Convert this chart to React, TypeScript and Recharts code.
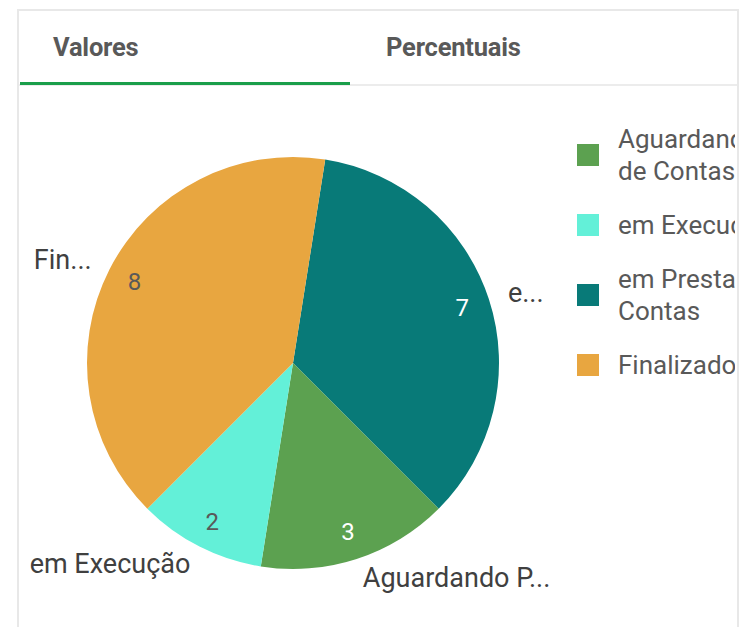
import React from "react";
import { PieChart, Pie, Cell, Legend } from "recharts";

// slice order follows the drawing (clockwise from the top)
const categories = ["em Prestação de Contas", "Aguardando Prestação de Contas", "em Execução", "Finalizado"];
const shortLabels = ["e...", "Aguardando P...", "em Execução", "Fin..."];
const values = [7, 3, 2, 8];
const colors = ["#087a78", "#5ca150", "#63f0d8", "#e8a640"];
const valueColors = ["#ffffff", "#ffffff", "#595959", "#595959"];

// legend order as shown on the right
const legendOrder = [1, 2, 0, 3];

const tabs = ["Valores", "Percentuais"];

const data = categories.map((name, i) => ({ name, value: values[i] }));

const RADIAN = Math.PI / 180;
const FONT = "Roboto, 'Noto Sans', sans-serif";

const renderLabel = (props: any) => {
  const { cx, cy, midAngle, outerRadius, index, value } = props;
  const cos = Math.cos(-midAngle * RADIAN);
  const sin = Math.sin(-midAngle * RADIAN);
  const rIn = outerRadius - 28;
  const rOut = outerRadius + 20;
  return (
    <g>
      <text
        x={cx + rIn * cos}
        y={cy + rIn * sin}
        fill={valueColors[index]}
        textAnchor="middle"
        dominantBaseline="central"
        fontSize={24}
        fontFamily={FONT}
      >
        {value}
      </text>
      <text
        x={cx + rOut * cos}
        y={cy + rOut * sin}
        fill="#404040"
        textAnchor={cos >= 0 ? "start" : "end"}
        dominantBaseline="central"
        fontSize={27}
        fontFamily={FONT}
      >
        {shortLabels[index]}
      </text>
    </g>
  );
};

const renderLegend = () => (
  <div style={{ fontFamily: FONT }}>
    {legendOrder.map((i) => (
      <div key={i} style={{ display: "flex", alignItems: "center", marginBottom: 22 }}>
        <div style={{ width: 22, height: 22, background: colors[i], flexShrink: 0 }} />
        <div
          style={{
            marginLeft: 19,
            width: 275,
            flexShrink: 0,
            fontSize: 26,
            lineHeight: "32px",
            color: "#595959",
          }}
        >
          {categories[i]}
        </div>
      </div>
    ))}
  </div>
);

export default function App() {
  return (
    <div
      style={{
        position: "absolute",
        left: 0,
        top: 0,
        width: 754,
        height: 627,
        overflow: "hidden",
        background: "#fff",
      }}
    >
      <div
        style={{
          position: "absolute",
          left: 17,
          top: 9,
          width: 718,
          height: 640,
          borderTop: "2px solid #e8e8e8",
          borderLeft: "2px solid #e8e8e8",
          borderRight: "2px solid #e8e8e8",
        }}
      />
      <div style={{ position: "absolute", left: 19, top: 84, width: 718, height: 2, background: "#ececec" }} />
      <div style={{ position: "absolute", left: 20, top: 82, width: 330, height: 3, background: "#1a9e4a" }} />
      {tabs.map((t, i) => (
        <div
          key={t}
          style={{
            position: "absolute",
            left: i === 0 ? 53 : 386,
            top: 31,
            height: 32,
            lineHeight: "32px",
            fontFamily: FONT,
            fontWeight: 700,
            fontSize: 25.5,
            letterSpacing: -0.2,
            color: "#595959",
          }}
        >
          {t}
        </div>
      ))}
      <div style={{ position: "absolute", left: 0, top: 0 }}>
        <PieChart width={754} height={627} margin={{ top: 0, right: 0, bottom: 0, left: 0 }}>
          <Pie
            data={data}
            dataKey="value"
            nameKey="name"
            cx={293}
            cy={363}
            outerRadius={206}
            startAngle={81}
            endAngle={-279}
            stroke="none"
            label={renderLabel}
            labelLine={false}
            isAnimationActive={false}
          >
            {data.map((d, i) => (
              <Cell key={d.name} fill={colors[i]} />
            ))}
          </Pie>
          <Legend
            content={renderLegend}
            layout="vertical"
            verticalAlign="top"
            align="right"
            wrapperStyle={{ left: 577, top: 123, right: "auto", width: 158, overflow: "hidden" }}
          />
        </PieChart>
      </div>
    </div>
  );
}
